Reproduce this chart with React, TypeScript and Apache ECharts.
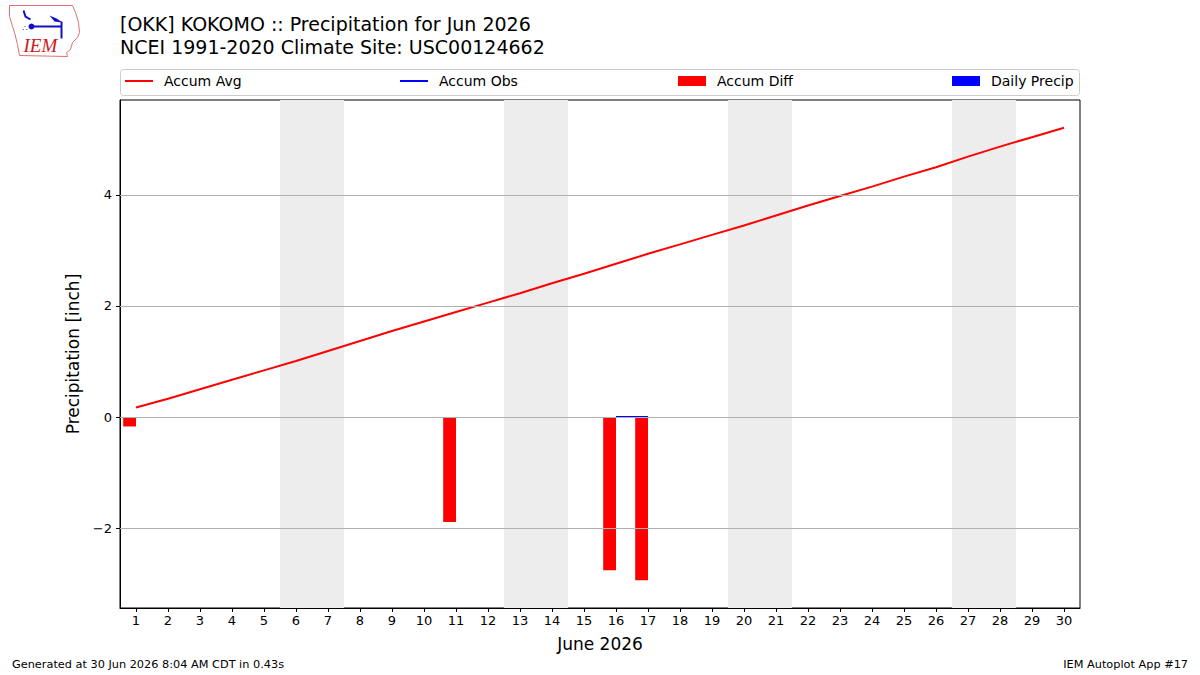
import React, { useEffect, useRef } from "react";
import * as echarts from "echarts";

const days: string[] = Array.from({ length: 30 }, (_, i) => String(i + 1));
const accumAvg: number[] = [
  0.17, 0.33, 0.5, 0.67, 0.84, 1.01, 1.19, 1.37, 1.55, 1.72,
  1.89, 2.06, 2.23, 2.41, 2.58, 2.76, 2.94, 3.11, 3.28, 3.45,
  3.63, 3.81, 3.98, 4.15, 4.33, 4.5, 4.69, 4.87, 5.04, 5.21,
];
const accumObs: (number | null)[] = [
  0, null, null, null, null, null, null, null, null, null,
  0, null, null, null, null, 0, 0, null, null, null,
  null, null, null, null, null, null, null, null, null, null,
];
const accumDiff: (number | null)[] = [
  -0.17, null, null, null, null, null, null, null, null, null,
  -1.89, null, null, null, null, -2.76, -2.94, null, null, null,
  null, null, null, null, null, null, null, null, null, null,
];
const dailyPrecip: (number | null)[] = [
  0, null, null, null, null, null, null, null, null, null,
  0, null, null, null, null, 0, 0, null, null, null,
  null, null, null, null, null, null, null, null, null, null,
];
const weekendSpans: [number, number][] = [
  [5.5, 7.5],
  [12.5, 14.5],
  [19.5, 21.5],
  [26.5, 28.5],
];
const yTicks: number[] = [-2, 0, 2, 4];

const FONT = "DejaVu Sans";

export default function App() {
  const ref = useRef<HTMLDivElement>(null);
  useEffect(() => {
    if (!ref.current) return;
    const chart = echarts.init(ref.current, undefined, { renderer: "svg" });
    const fmt = (v: number) => (v < 0 ? "\u2212" + Math.abs(v) : String(v));
    const legendBase = {
      top: 74,
      padding: 0,
      orient: "horizontal",
      itemWidth: 28,
      itemHeight: 10,
      textStyle: { fontFamily: FONT, fontSize: 14, color: "#000", padding: [0, 0, 0, 6] },
      selectedMode: false,
    };
    const titleStyle = { fontFamily: FONT, fontSize: 19, fontWeight: "normal", color: "#000" };
    const footStyle = { fontFamily: FONT, fontSize: 11.3, fontWeight: "normal", color: "#000" };
    const option: any = {
      animation: false,
      backgroundColor: "#fff",
      textStyle: { fontFamily: FONT },
      title: [
        { text: "[OKK] KOKOMO :: Precipitation for Jun 2026", left: 120, top: 14, padding: 0, textStyle: titleStyle },
        { text: "NCEI 1991-2020 Climate Site: USC00124662", left: 120, top: 37, padding: 0, textStyle: titleStyle },
        { text: "Generated at 30 Jun 2026 8:04 AM CDT in 0.43s", left: 12, top: 659, padding: 0, textStyle: footStyle },
        { text: "IEM Autoplot App #17", right: 12, top: 659, padding: 0, textStyle: footStyle },
      ],
      legend: [
        { ...legendBase, left: 125, itemHeight: 2, data: [{ name: "Accum Avg", icon: "rect" }] },
        { ...legendBase, left: 400, itemHeight: 2, data: [{ name: "Accum Obs", icon: "rect" }] },
        { ...legendBase, left: 678, data: [{ name: "Accum Diff", icon: "rect" }] },
        { ...legendBase, left: 952, data: [{ name: "Daily Precip", icon: "rect" }] },
      ],
      grid: {
        left: 120,
        right: 120,
        top: 100,
        bottom: 67,
        show: true,
        borderColor: "#000",
        borderWidth: 1,
        backgroundColor: "transparent",
      },
      xAxis: [
        {
          type: "category",
          data: days,
          boundaryGap: true,
          name: "June 2026",
          nameLocation: "middle",
          nameGap: 27,
          nameTextStyle: { fontFamily: FONT, fontSize: 17, color: "#000" },
          axisLine: { show: true, onZero: false, lineStyle: { color: "#000", width: 1 } },
          axisTick: { show: true, alignWithLabel: true, length: 4, lineStyle: { color: "#000" } },
          axisLabel: { fontFamily: FONT, fontSize: 13, color: "#000", margin: 6, interval: 0 },
          splitLine: { show: false },
        },
        {
          type: "value",
          min: 0.5,
          max: 30.5,
          show: false,
          axisLine: { onZero: false },
          splitLine: { show: false },
        },
      ],
      yAxis: {
        type: "value",
        min: -3.44,
        max: 5.71,
        name: "Precipitation [inch]",
        nameLocation: "middle",
        nameRotate: 90,
        nameGap: 35,
        nameTextStyle: { fontFamily: FONT, fontSize: 17, color: "#000" },
        axisLine: { show: true, onZero: false, lineStyle: { color: "#000", width: 1 } },
        axisTick: { show: true, length: 4, lineStyle: { color: "#000" }, customValues: yTicks },
        axisLabel: {
          fontFamily: FONT,
          fontSize: 13,
          color: "#000",
          margin: 8,
          customValues: yTicks,
          formatter: (v: number) => fmt(v),
        },
        splitLine: { show: false },
      },
      series: [
        {
          name: "weekend",
          type: "line",
          xAxisIndex: 1,
          data: [],
          silent: true,
          z: 0,
          markArea: {
            silent: true,
            itemStyle: { color: "#ededed" },
            data: weekendSpans.map(([a, b]) => [{ xAxis: a }, { xAxis: b }]),
          },
        },
        {
          name: "grid",
          type: "line",
          xAxisIndex: 1,
          data: [],
          silent: true,
          z: 1,
          markLine: {
            silent: true,
            symbol: "none",
            label: { show: false },
            lineStyle: { color: "#b0b0b0", width: 1, type: "solid" },
            data: yTicks.map((t) => ({ yAxis: t })),
          },
        },
        {
          name: "Accum Diff",
          type: "bar",
          data: accumDiff,
          barWidth: "40%",
          barGap: "0%",
          itemStyle: { color: "#ff0000" },
          z: 2,
        },
        {
          name: "Daily Precip",
          type: "bar",
          data: dailyPrecip,
          barWidth: "40%",
          barGap: "0%",
          itemStyle: { color: "#0000ff" },
          z: 2,
        },
        {
          name: "Accum Avg",
          type: "line",
          data: accumAvg,
          symbol: "none",
          showSymbol: false,
          lineStyle: { color: "#ff0000", width: 2 },
          itemStyle: { color: "#ff0000" },
          z: 3,
        },
        {
          name: "Accum Obs",
          type: "line",
          data: accumObs,
          symbol: "none",
          showSymbol: false,
          connectNulls: false,
          lineStyle: { color: "#0000ff", width: 2 },
          itemStyle: { color: "#0000ff" },
          z: 3,
        },
      ],
      graphic: [
        {
          type: "rect",
          shape: { x: 120.5, y: 69.5, width: 959, height: 26, r: 3 },
          style: { fill: "rgba(255,255,255,0.8)", stroke: "#cccccc", lineWidth: 1 },
          z: -1,
          silent: true,
        },
        {
          type: "group",
          left: 9,
          top: 5,
          children: [
            {
              type: "polygon",
              shape: {
                points: [
                  [0, 1], [63, 1], [66, 8], [69, 18], [70, 28], [68, 33], [63, 38],
                  [61, 45], [57, 48], [58, 52], [10, 51], [8, 40], [5, 28], [0, 12],
                ],
              },
              style: { fill: "#fff", stroke: "#e07070", lineWidth: 1 },
            },
            {
              type: "polyline",
              shape: { points: [[14, 6], [16, 12], [21, 15]] },
              style: { stroke: "#1010c0", lineWidth: 2, fill: "none" },
            },
            {
              type: "circle",
              shape: { cx: 22, cy: 22, r: 3 },
              style: { fill: "#1010c0" },
            },
            {
              type: "line",
              shape: { x1: 22, y1: 22, x2: 52, y2: 22 },
              style: { stroke: "#1010c0", lineWidth: 2 },
            },
            {
              type: "polygon",
              shape: { points: [[40, 11], [47, 14], [53, 18], [45, 17]] },
              style: { fill: "#1010c0" },
            },
            {
              type: "line",
              shape: { x1: 52, y1: 17, x2: 52, y2: 34 },
              style: { stroke: "#1010c0", lineWidth: 2 },
            },
            {
              type: "text",
              style: { text: "\u2234", x: 13, y: 20, fill: "#1010c0", font: "8px DejaVu Sans" },
            },
            {
              type: "text",
              style: {
                text: "IEM",
                x: 14,
                y: 31,
                fill: "#d01818",
                font: "italic 19px 'Liberation Serif'",
              },
            },
          ],
        },
      ],
    };
    chart.setOption(option);
    return () => chart.dispose();
  }, []);
  return (
    <div
      ref={ref}
      style={{ position: "fixed", left: 0, top: 0, width: 1200, height: 675 }}
    />
  );
}
